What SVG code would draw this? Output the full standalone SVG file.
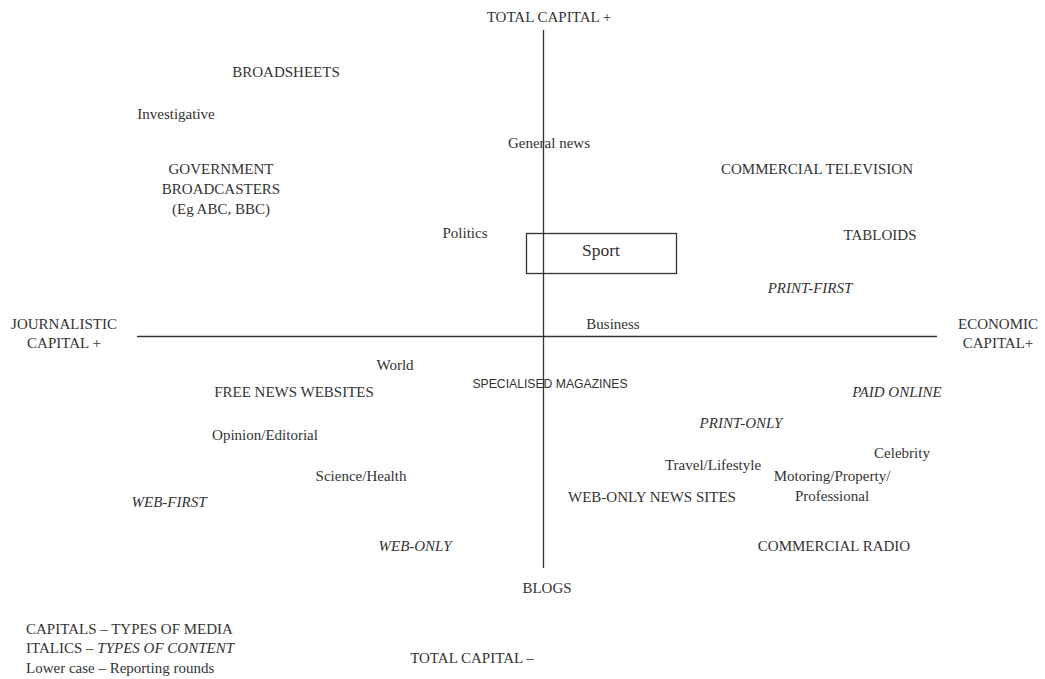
<svg xmlns="http://www.w3.org/2000/svg" width="1045" height="679" viewBox="0 0 1045 679">
  <style>
    text { font-family: "Liberation Serif", "Times New Roman", serif; font-size: 15px; fill: #333; text-anchor: middle; }
    .it { font-style: italic; }
    .sans { font-family: "Liberation Sans", Arial, sans-serif; font-size: 12.2px; }
    .left { text-anchor: start; }
    .axis { stroke: #333; stroke-width: 1.3; fill: none; }
  </style>
  <rect width="1045" height="679" fill="#ffffff"/>

  <!-- axes -->
  <g id="connectors">
    <line class="axis" x1="543.5" y1="30" x2="543.5" y2="568"/>
    <line class="axis" x1="137" y1="336.5" x2="937" y2="336.5"/>
  </g>

  <!-- axis labels -->
  <g id="axis-top"><text x="549" y="22">TOTAL CAPITAL +</text></g>
  <g id="axis-bottom"><text x="472" y="663">TOTAL CAPITAL –</text></g>
  <g id="axis-left"><text x="64" y="329">JOURNALISTIC</text><text x="64" y="348">CAPITAL +</text></g>
  <g id="axis-right"><text x="998" y="329">ECONOMIC</text><text x="998" y="348">CAPITAL+</text></g>

  <!-- upper left -->
  <g id="broadsheets"><text x="286" y="77">BROADSHEETS</text></g>
  <g id="investigative"><text x="176" y="119">Investigative</text></g>
  <g id="government"><text x="221" y="174">GOVERNMENT</text><text x="221" y="194">BROADCASTERS</text><text x="221" y="214">(Eg ABC, BBC)</text></g>
  <g id="politics"><text x="465" y="238">Politics</text></g>
  <g id="general-news"><text x="549" y="148">General news</text></g>

  <!-- upper right -->
  <g id="sport">
    <rect x="526.5" y="233.5" width="150" height="40" fill="none" stroke="#333" stroke-width="1.3"/>
    <text x="601" y="256" style="font-size:17.5px">Sport</text>
  </g>
  <g id="commercial-tv"><text x="817" y="174">COMMERCIAL TELEVISION</text></g>
  <g id="tabloids"><text x="880" y="240">TABLOIDS</text></g>
  <g id="print-first"><text class="it" x="810" y="293">PRINT-FIRST</text></g>
  <g id="business"><text x="613" y="329">Business</text></g>

  <!-- lower left -->
  <g id="world"><text x="395" y="370">World</text></g>
  <g id="free-news"><text x="294" y="397">FREE NEWS WEBSITES</text></g>
  <g id="opinion"><text x="265" y="440">Opinion/Editorial</text></g>
  <g id="science"><text x="361" y="481">Science/Health</text></g>
  <g id="web-first"><text class="it" x="169" y="507">WEB-FIRST</text></g>
  <g id="web-only"><text class="it" x="415" y="551">WEB-ONLY</text></g>

  <!-- lower right -->
  <g id="specialised"><text class="sans" x="550" y="388">SPECIALISED MAGAZINES</text></g>
  <g id="paid-online"><text class="it" x="897" y="397">PAID ONLINE</text></g>
  <g id="print-only"><text class="it" x="741" y="428">PRINT-ONLY</text></g>
  <g id="celebrity"><text x="902" y="458">Celebrity</text></g>
  <g id="travel"><text x="713" y="470">Travel/Lifestyle</text></g>
  <g id="motoring"><text x="832" y="481">Motoring/Property/</text><text x="832" y="501">Professional</text></g>
  <g id="web-only-news"><text x="652" y="502">WEB-ONLY NEWS SITES</text></g>
  <g id="commercial-radio"><text x="834" y="551">COMMERCIAL RADIO</text></g>
  <g id="blogs"><text x="547" y="593">BLOGS</text></g>

  <!-- key -->
  <g id="legend">
    <text class="left" x="26" y="634">CAPITALS – TYPES OF MEDIA</text>
    <text class="left" x="26" y="653">ITALICS – <tspan class="it">TYPES OF CONTENT</tspan></text>
    <text class="left" x="26" y="673">Lower case – Reporting rounds</text>
  </g>
</svg>
